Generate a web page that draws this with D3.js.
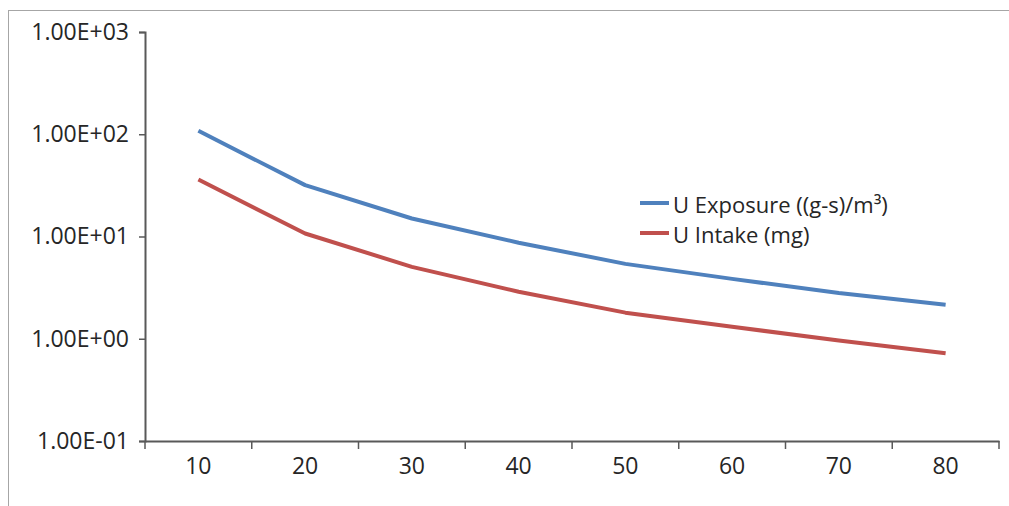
<!DOCTYPE html>
<html>
<head>
<meta charset="utf-8">
<script src="https://cdn.jsdelivr.net/npm/d3@7"></script>
<style>
  body { margin: 0; background: #fff; }
  text { font-family: "Open Sans", Lato, sans-serif; fill: #262626; }
</style>
</head>
<body>
<div id="graph"></div>
<script>
// Chart data
const categories = ['10', '20', '30', '40', '50', '60', '70', '80'];
const exposure = [108, 31.8, 15, 8.7, 5.4, 3.85, 2.8, 2.15];   // U Exposure ((g-s)/m³)
const intake = [36.1, 10.7, 5.05, 2.88, 1.8, 1.31, 0.96, 0.72]; // U Intake (mg)
const yTicks = [0.1, 1, 10, 100, 1000];
const seriesNames = ['U Exposure ((g-s)/m³)', 'U Intake (mg)'];
const colors = ['#4F81BD', '#C0504D'];

const W = 1009, H = 506;
const plot = { left: 145, right: 999, top: 32, bottom: 441 };
const fontSize = '23px';

const svg = d3.select('#graph').append('svg')
  .attr('width', W)
  .attr('height', H);

// outer frame
svg.append('rect')
  .attr('x', 8.5).attr('y', 10.5)
  .attr('width', 1100).attr('height', 600)
  .attr('fill', 'none')
  .attr('stroke', '#a6a6a6');

const x = d3.scaleBand().domain(categories).range([plot.left, plot.right]);
const y = d3.scaleLog().domain([0.1, 1000]).range([plot.bottom, plot.top]);

// y axis
const yAxis = svg.append('g')
  .attr('transform', `translate(${plot.left},0)`)
  .call(d3.axisLeft(y).tickValues(yTicks).tickSize(6).tickPadding(10)
    .tickFormat(d => d3.format('.2e')(d).toUpperCase().replace(/E([+-])(\d)$/, 'E$10$2')));
yAxis.select('.domain').attr('stroke', '#595959').attr('stroke-width', 2);
yAxis.selectAll('.tick line').attr('stroke', '#595959').attr('stroke-width', 1.5);
yAxis.selectAll('text').style('font-size', fontSize).attr('fill', '#262626');

// x axis with ticks between categories
const xAxis = svg.append('g')
  .attr('transform', `translate(0,${plot.bottom})`)
  .call(d3.axisBottom(x).tickSize(0).tickPadding(17));
xAxis.select('.domain').attr('stroke', '#595959').attr('stroke-width', 2);
xAxis.selectAll('text').style('font-size', fontSize).attr('fill', '#262626');
const bounds = categories.map(c => x(c)).concat([x.range()[1]]);
xAxis.selectAll('.bound').data(bounds).enter().append('line')
  .attr('x1', d => d).attr('x2', d => d)
  .attr('y1', 0).attr('y2', 8)
  .attr('stroke', '#595959').attr('stroke-width', 1.5);

// lines
const line = d3.line()
  .x((d, i) => x(categories[i]) + x.bandwidth() / 2)
  .y(d => y(d));
[exposure, intake].forEach((s, k) => {
  svg.append('path')
    .datum(s)
    .attr('d', line)
    .attr('fill', 'none')
    .attr('stroke', colors[k])
    .attr('stroke-width', 4)
    .attr('stroke-linejoin', 'round');
});

// legend
const legend = svg.append('g').attr('transform', 'translate(640,203)');
seriesNames.forEach((name, k) => {
  const g = legend.append('g').attr('transform', `translate(0,${k * 30})`);
  g.append('line').attr('x1', 0).attr('x2', 29).attr('y1', 0).attr('y2', 0)
    .attr('stroke', colors[k]).attr('stroke-width', 4);
  g.append('text').attr('x', 33).attr('y', 2).attr('dy', '0.35em')
    .style('font-size', '22px').text(name);
});
</script>
</body>
</html>
